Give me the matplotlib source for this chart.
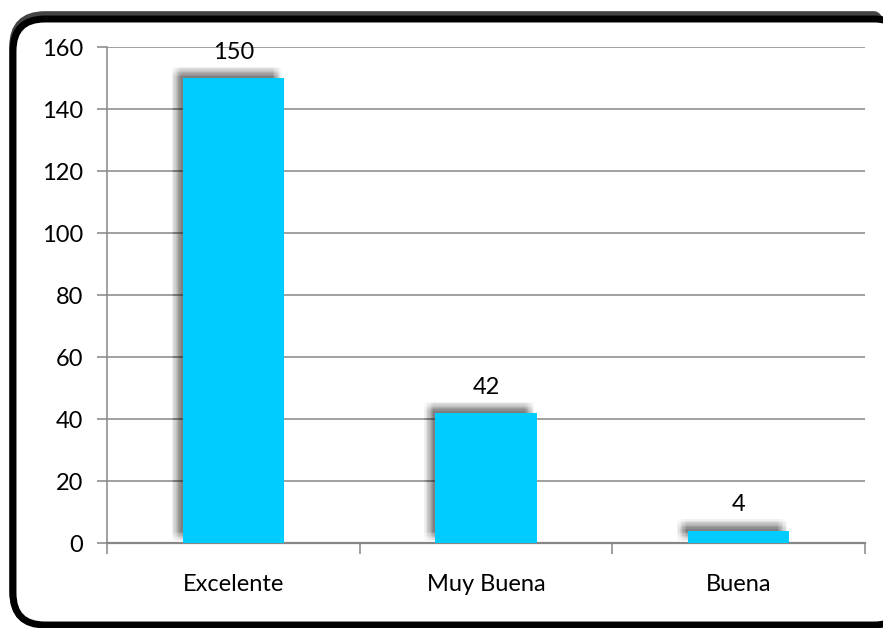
import matplotlib
matplotlib.use('Agg')
import numpy as np
import matplotlib.pyplot as plt
import matplotlib.patheffects as pe
import matplotlib.transforms as mtransforms
from matplotlib.patches import FancyBboxPatch

# data
categories = ['Excelente', 'Muy Buena', 'Buena']
values = [150, 42, 4]
y_ticks = [0, 20, 40, 60, 80, 100, 120, 140, 160]

plt.rcParams['font.family'] = ['Lato', 'DejaVu Sans']

fig = plt.figure(figsize=(8.83, 6.28), dpi=100)
W, H = 883, 628

# rounded frame around the whole chart (pixel coords)
ident = mtransforms.IdentityTransform()
frame_back = FancyBboxPatch((13, 5), 893, 608, boxstyle='round,pad=0,rounding_size=32',
                            transform=ident, facecolor='none', edgecolor='#444444',
                            linewidth=5.5, zorder=-2)
frame = FancyBboxPatch((13, 3), 893, 606, boxstyle='round,pad=0,rounding_size=32',
                       transform=ident, facecolor='white', edgecolor='black',
                       linewidth=5, zorder=-1)
fig.patches.extend([frame_back, frame])

ax = fig.add_axes([107 / W, 85 / H, 758 / W, 496 / H])
ax.set_facecolor('none')

x = list(range(len(categories)))

# soft shadow up and to the left: many faint offset copies
shadow = []
for dx in np.linspace(-8, -1.5, 8):
    for dy in np.linspace(1.5, 8, 8):
        shadow.append(pe.SimplePatchShadow(offset=(dx, dy), shadow_rgbFace='black', alpha=0.0075))
shadow.append(pe.Normal())

bars = ax.bar(x, values, width=0.4, color='#00CCFF', zorder=3)
for b in bars:
    b.set_path_effects(shadow)

for xi, v in zip(x, values):
    ax.annotate(str(v), (xi, v), xytext=(0, 11), textcoords='offset points',
                ha='center', va='bottom', fontsize=17, color='black', zorder=4)

ax.set_ylim(0, 160)
ax.set_xlim(-0.5, len(categories) - 0.5)
ax.set_yticks(y_ticks)
ax.yaxis.grid(True, color='#868686', linewidth=1.1, zorder=0)
ax.set_axisbelow(True)

ax.set_xticks(x)
ax.set_xticklabels(categories, fontsize=17)
ax.tick_params(axis='x', length=0, pad=22)
ax.set_xticks([i - 0.5 for i in range(len(categories) + 1)], minor=True)
ax.tick_params(axis='x', which='minor', length=8, color='#868686', width=1.1, direction='out')
ax.tick_params(axis='y', labelsize=17, length=7, color='#868686', width=1.1, pad=10)

for s in ('top', 'right'):
    ax.spines[s].set_visible(False)
for s in ('left', 'bottom'):
    ax.spines[s].set_color('#868686')
    ax.spines[s].set_linewidth(1.1)
ax.spines['bottom'].set_linewidth(1.6)

fig.savefig('out.png', dpi=100)
